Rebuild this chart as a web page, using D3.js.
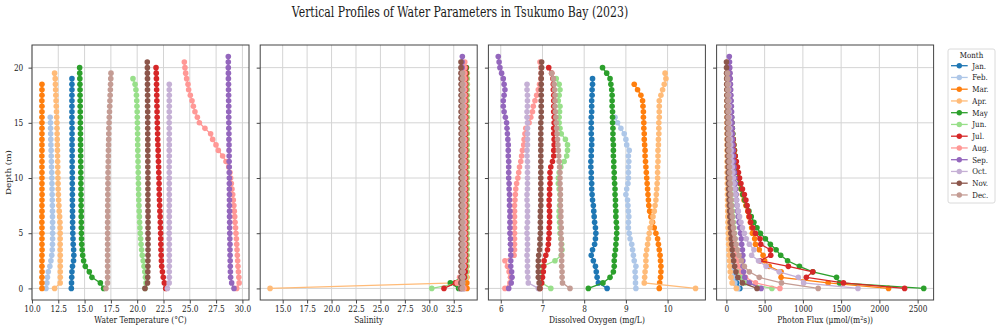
<!DOCTYPE html>
<html>
<head>
<meta charset="utf-8">
<script src="https://cdn.jsdelivr.net/npm/d3@7"></script>
<style>
	body { margin: 0; background: #fff; }
	text { font-family: "DejaVu Serif", serif; fill: #1a1a1a; }
</style>
</head>
<body>
<svg id="chart" width="1000" height="330"></svg>
<script>
var monthNames = ["Jan.","Feb.","Mar.","Apr.","May","Jun.","Jul.","Aug.","Sep.","Oct.","Nov.","Dec."];
var monthColors = ["#1f77b4","#aec7e8","#ff7f0e","#ffbb78","#2ca02c","#98df8a","#d62728","#ff9896","#9467bd","#c5b0d5","#8c564b","#c49c94"];
var depthStep = 0.5; // each value below is one 0.5 m step, from the surface down

// water temperature (°C)
var tempJan = [13.74,13.76,13.78,13.80,13.85,13.95,13.98,13.96,13.92,13.90,13.88,13.87,13.86,13.86,13.85,13.85,13.84,13.84,13.84,13.83,13.83,13.83,13.82,13.82,13.82,13.82,13.81,13.81,13.81,13.81,13.80,13.80,13.80,13.80,13.80,13.80,13.80,13.80,13.80];
var tempFeb = [11.33,11.42,11.47,11.55,11.70,11.80,11.88,11.93,11.95,11.96,11.96,11.96,11.96,11.95,11.95,11.94,11.93,11.92,11.91,11.90,11.89,11.88,11.86,11.85,11.83,11.82,11.80,11.79,11.78,11.77,11.76,11.74];
var tempMar = [10.95,10.95,10.95,10.96,10.95,10.95,10.95,10.96,10.95,10.95,10.95,10.95,10.94,10.95,10.95,10.95,10.95,10.96,10.95,10.95,10.95,10.95,10.95,10.95,10.94,10.95,10.95,10.95,10.95,10.95,10.95,10.95,10.95,10.95,10.94,10.95,10.95,10.95];
var tempApr = [12.15,12.68,12.69,12.69,12.69,12.69,12.69,12.68,12.68,12.68,12.68,12.67,12.66,12.63,12.59,12.56,12.53,12.51,12.49,12.48,12.47,12.46,12.45,12.44,12.43,12.42,12.41,12.40,12.39,12.38,12.37,12.35,12.33,12.31,12.29,12.27,12.25,12.23,12.21,12.15];
var tempMay = [16.81,16.50,15.70,15.45,15.07,14.91,14.82,14.77,14.73,14.71,14.70,14.69,14.69,14.68,14.68,14.67,14.67,14.66,14.66,14.65,14.65,14.64,14.64,14.63,14.63,14.62,14.62,14.61,14.61,14.60,14.60,14.59,14.59,14.58,14.58,14.57,14.57,14.56,14.55,14.54,14.53];
var tempJun = [20.75,20.84,20.78,20.72,20.65,20.57,20.48,20.42,20.37,20.33,20.29,20.26,20.23,20.21,20.19,20.17,20.15,20.14,20.13,20.12,20.11,20.10,20.09,20.08,20.07,20.06,20.05,20.05,20.04,20.03,20.02,20.01,20.00,19.98,19.96,19.93,19.88,19.80,19.60];
var tempJul = [22.71,22.58,22.48,22.40,22.33,22.30,22.28,22.26,22.25,22.24,22.23,22.21,22.20,22.18,22.16,22.14,22.12,22.10,22.09,22.08,22.07,22.05,22.04,22.02,22.00,21.99,21.97,21.95,21.94,21.93,21.91,21.90,21.89,21.88,21.87,21.86,21.85,21.84,21.83,21.81,21.79];
var tempAug = [29.46,29.69,29.66,29.62,29.58,29.55,29.52,29.49,29.46,29.43,29.39,29.35,29.30,29.27,29.23,29.19,29.14,29.08,29.01,28.95,28.88,28.82,28.70,28.44,28.12,27.71,27.49,27.17,26.98,26.44,25.91,25.72,25.49,25.34,25.21,25.05,24.89,24.83,24.70,24.61,24.54,24.48];
var tempSep = [29.20,28.98,28.88,28.86,28.85,28.84,28.83,28.82,28.82,28.81,28.80,28.79,28.79,28.78,28.78,28.77,28.77,28.77,28.76,28.76,28.76,28.75,28.75,28.74,28.74,28.73,28.73,28.72,28.72,28.71,28.71,28.70,28.70,28.70,28.69,28.69,28.68,28.68,28.67,28.67,28.66,28.66,28.66];
var tempOct = [22.87,23.04,23.05,23.05,23.05,23.06,23.05,23.05,23.05,23.05,23.04,23.05,23.05,23.05,23.05,23.05,23.06,23.05,23.05,23.05,23.05,23.05,23.04,23.05,23.05,23.05,23.05,23.05,23.05,23.05,23.04,23.05,23.05,23.05,23.05,23.05,23.05,23.05];
var tempNov = [20.74,20.98,21.00,21.01,21.02,21.02,21.03,21.03,21.03,21.03,21.03,21.03,21.03,21.03,21.03,21.02,21.02,21.02,21.02,21.02,21.02,21.02,21.01,21.01,21.01,21.01,21.01,21.01,21.00,21.00,21.00,21.00,21.00,20.99,20.99,20.99,20.98,20.98,20.98,20.97,20.97,20.96];
var tempDec = [17.03,17.18,17.19,17.19,17.19,17.19,17.19,17.19,17.19,17.19,17.19,17.19,17.19,17.20,17.20,17.20,17.21,17.21,17.21,17.22,17.22,17.23,17.24,17.25,17.26,17.27,17.28,17.29,17.30,17.31,17.33,17.35,17.37,17.39,17.41,17.43,17.45,17.47,17.49,17.51];

// salinity
var salJan = [33.55,33.56,33.56,33.55,33.55,33.56,33.56,33.55,33.55,33.55,33.56,33.56,33.55,33.55,33.55,33.55,33.56,33.56,33.55,33.55,33.55,33.55,33.55,33.56,33.55,33.55,33.55,33.55,33.55,33.55,33.55,33.55,33.55,33.55,33.55,33.55,33.55,33.55,33.55];
var salFeb = [33.50,33.50,33.51,33.51,33.50,33.50,33.50,33.50,33.50,33.51,33.50,33.50,33.50,33.50,33.50,33.50,33.50,33.50,33.50,33.50,33.50,33.50,33.50,33.50,33.50,33.50,33.50,33.50,33.50,33.50,33.50,33.50];
var salMar = [33.86,33.84,33.84,33.83,33.83,33.83,33.82,33.82,33.82,33.82,33.82,33.82,33.81,33.81,33.81,33.81,33.81,33.81,33.80,33.80,33.80,33.80,33.80,33.80,33.80,33.80,33.80,33.80,33.80,33.80,33.80,33.80,33.80,33.80,33.80,33.80,33.80,33.80];
var salApr = [13.71,32.70,33.82,33.84,33.85,33.86,33.86,33.86,33.86,33.86,33.87,33.87,33.87,33.87,33.87,33.87,33.88,33.88,33.88,33.88,33.88,33.88,33.88,33.88,33.88,33.88,33.88,33.88,33.89,33.89,33.89,33.89,33.89,33.89,33.89,33.89,33.89,33.89,33.89,33.89];
var salMay = [33.00,32.15,33.50,33.70,33.75,33.76,33.77,33.77,33.78,33.78,33.78,33.78,33.78,33.78,33.78,33.78,33.78,33.78,33.78,33.79,33.79,33.79,33.79,33.79,33.79,33.79,33.79,33.79,33.79,33.79,33.79,33.79,33.79,33.79,33.79,33.79,33.79,33.80,33.80,33.80,33.80];
var salJun = [30.25,33.20,33.70,33.80,33.83,33.84,33.85,33.85,33.85,33.85,33.85,33.86,33.86,33.86,33.86,33.86,33.86,33.86,33.86,33.86,33.86,33.86,33.86,33.86,33.86,33.86,33.86,33.86,33.86,33.86,33.86,33.86,33.86,33.86,33.86,33.86,33.86,33.86,33.86];
var salJul = [31.50,32.70,33.60,33.68,33.70,33.71,33.72,33.72,33.72,33.72,33.72,33.73,33.73,33.73,33.73,33.73,33.73,33.73,33.73,33.73,33.73,33.73,33.73,33.73,33.73,33.73,33.73,33.73,33.73,33.73,33.73,33.73,33.73,33.73,33.73,33.73,33.73,33.73,33.73,33.73,33.72];
var salAug = [33.55,32.85,33.10,33.40,33.55,33.58,33.60,33.60,33.61,33.61,33.61,33.62,33.62,33.62,33.62,33.62,33.62,33.62,33.62,33.62,33.62,33.62,33.62,33.62,33.62,33.62,33.62,33.62,33.62,33.62,33.63,33.63,33.63,33.63,33.63,33.63,33.63,33.63,33.63,33.63,33.63,33.63];
var salSep = [33.30,33.32,33.33,33.34,33.35,33.35,33.35,33.35,33.35,33.35,33.35,33.35,33.35,33.35,33.35,33.35,33.35,33.35,33.35,33.35,33.35,33.35,33.35,33.35,33.35,33.35,33.35,33.35,33.35,33.35,33.35,33.35,33.35,33.35,33.35,33.35,33.35,33.35,33.35,33.35,33.36,33.36,33.38];
var salOct = [33.20,33.40,33.43,33.44,33.45,33.45,33.45,33.45,33.45,33.45,33.45,33.45,33.45,33.45,33.45,33.45,33.45,33.45,33.45,33.45,33.45,33.45,33.45,33.45,33.45,33.45,33.45,33.45,33.45,33.45,33.45,33.45,33.45,33.45,33.45,33.45,33.45,33.45];
var salNov = [33.22,33.23,33.24,33.24,33.25,33.25,33.25,33.25,33.25,33.25,33.25,33.25,33.25,33.25,33.25,33.25,33.25,33.25,33.25,33.25,33.25,33.25,33.25,33.25,33.25,33.25,33.25,33.25,33.25,33.25,33.25,33.25,33.25,33.25,33.25,33.25,33.25,33.25,33.24,33.24,33.24,33.24];
var salDec = [33.38,33.40,33.40,33.40,33.40,33.40,33.40,33.40,33.40,33.40,33.40,33.40,33.40,33.40,33.40,33.40,33.40,33.40,33.40,33.40,33.40,33.40,33.40,33.40,33.40,33.40,33.40,33.40,33.40,33.40,33.40,33.40,33.40,33.40,33.40,33.40,33.40,33.40,33.40,33.40];

// dissolved oxygen (mg/L)
var doJan = [8.55,8.34,8.31,8.29,8.27,8.22,8.17,8.20,8.25,8.27,8.28,8.27,8.25,8.24,8.23,8.22,8.20,8.19,8.18,8.18,8.17,8.17,8.16,8.16,8.17,8.17,8.18,8.18,8.17,8.17,8.17,8.17,8.18,8.18,8.18,8.19,8.19,8.20,8.20];
var doFeb = [9.24,9.23,9.23,9.22,9.24,9.20,9.18,9.16,9.14,9.10,9.08,9.06,9.06,9.07,9.06,9.05,9.04,9.00,9.02,9.05,9.06,9.06,9.06,9.07,9.06,9.08,9.02,9.00,8.96,8.88,8.80,8.74];
var doMar = [9.80,9.81,9.83,9.84,9.84,9.83,9.82,9.80,9.78,9.76,9.72,9.68,9.64,9.60,9.57,9.55,9.54,9.53,9.52,9.51,9.50,9.49,9.48,9.47,9.46,9.46,9.45,9.44,9.44,9.43,9.43,9.42,9.42,9.41,9.40,9.36,9.28,9.20];
var doApr = [10.67,9.44,9.45,9.46,9.48,9.48,9.48,9.50,9.52,9.54,9.56,9.58,9.62,9.65,9.68,9.70,9.72,9.73,9.74,9.75,9.76,9.76,9.76,9.77,9.77,9.77,9.78,9.78,9.79,9.79,9.79,9.80,9.80,9.80,9.80,9.84,9.88,9.92,9.96,9.94];
var doMay = [8.10,8.45,8.62,8.70,8.72,8.72,8.73,8.75,8.76,8.77,8.78,8.78,8.77,8.76,8.76,8.75,8.75,8.74,8.74,8.73,8.72,8.72,8.71,8.71,8.70,8.70,8.70,8.69,8.69,8.69,8.68,8.68,8.68,8.67,8.67,8.67,8.66,8.64,8.62,8.54,8.44];
var doJun = [7.20,6.98,6.98,6.99,7.00,7.30,7.45,7.47,7.46,7.44,7.42,7.42,7.41,7.40,7.40,7.41,7.42,7.42,7.40,7.38,7.38,7.40,7.44,7.52,7.58,7.60,7.60,7.55,7.45,7.42,7.40,7.40,7.41,7.42,7.38,7.40,7.42,7.40,7.33];
var doJul = [6.94,6.98,7.00,7.02,7.03,7.04,7.08,7.12,7.14,7.15,7.16,7.16,7.17,7.17,7.17,7.16,7.16,7.17,7.17,7.18,7.18,7.18,7.20,7.24,7.27,7.27,7.28,7.28,7.27,7.27,7.28,7.28,7.27,7.27,7.27,7.27,7.26,7.26,7.25,7.22,7.15];
var doAug = [6.10,6.22,6.23,6.20,6.16,6.10,6.32,6.33,6.33,6.33,6.33,6.33,6.33,6.33,6.33,6.33,6.34,6.35,6.36,6.38,6.41,6.43,6.45,6.48,6.50,6.52,6.55,6.56,6.58,6.60,6.68,6.72,6.76,6.78,6.82,6.86,6.90,6.93,6.96,6.97,6.96,6.94];
var doSep = [6.19,6.25,6.27,6.26,6.24,6.24,6.24,6.24,6.23,6.23,6.22,6.22,6.22,6.22,6.22,6.21,6.21,6.21,6.20,6.20,6.19,6.19,6.19,6.19,6.18,6.18,6.18,6.17,6.16,6.15,6.14,6.11,6.08,6.06,6.06,6.08,6.10,6.08,6.06,6.02,5.98,5.96,5.94];
var doOct = [6.90,6.66,6.65,6.64,6.64,6.64,6.63,6.64,6.64,6.64,6.63,6.63,6.64,6.64,6.64,6.64,6.63,6.63,6.64,6.64,6.64,6.64,6.64,6.64,6.63,6.63,6.64,6.64,6.64,6.64,6.64,6.63,6.63,6.64,6.64,6.64,6.63,6.63];
var doNov = [6.93,6.92,6.90,6.90,6.90,6.90,6.91,6.93,6.94,6.94,6.95,6.95,6.95,6.95,6.95,6.96,6.96,6.96,6.96,6.96,6.96,6.96,6.96,6.96,6.96,6.96,6.96,6.96,6.96,6.96,6.96,6.97,6.97,6.97,6.97,6.97,6.97,6.97,6.97,6.97,6.98,6.98];
var doDec = [7.66,7.48,7.47,7.47,7.46,7.46,7.46,7.45,7.45,7.45,7.44,7.45,7.44,7.44,7.44,7.43,7.43,7.43,7.43,7.42,7.42,7.42,7.41,7.40,7.39,7.38,7.37,7.36,7.35,7.34,7.33,7.32,7.31,7.30,7.30,7.30,7.29,7.28,7.26,7.22];

// photon flux (µmol/(m²s))
var parJan = [176,135,115,100,90,82,75,68,62,57,52,48,44,41,38,35,33,31,29,27,25,24,22,21,20,19,18,17,16,15,14,13,13,12,12,11,11,10,10];
var parFeb = [150,110,95,85,75,68,62,57,52,48,44,41,38,35,32,30,28,26,24,22,21,20,18,17,16,15,14,13,12,12,11,10];
var parMar = [2120,1330,715,715,560,500,480,430,380,370,340,330,314,295,280,255,230,210,190,175,160,148,136,125,115,105,96,88,81,75,69,64,59,55,51,47,44,41];
var parApr = [130,75,60,50,45,40,36,33,30,27,25,23,21,19,18,16,15,14,13,12,11,10,10,9,9,8,8,7,7,7,6,6,6,5,5,5,5,4,4,4];
var parMay = [2580,1480,1440,1130,955,800,710,650,575,510,445,400,360,325,295,265,240,215,195,178,162,148,135,124,114,105,97,90,83,77,72,67,62,58,54,50,47,44,41,38,35];
var parJun = [595,240,200,175,160,148,138,128,120,112,105,98,92,86,80,75,70,66,62,58,55,52,49,46,43,41,39,37,35,33,31,30,28,27,26,25,24,23,22];
var parJul = [2330,1530,1045,1130,810,440,580,575,450,440,380,345,318,300,285,270,255,235,210,190,172,158,145,130,115,102,95,88,78,72,67,62,58,55,52,49,47,45,43,40,38];
var parAug = [700,380,250,195,160,140,125,112,102,94,87,80,74,69,64,60,56,52,49,46,43,41,39,37,35,33,31,30,28,27,26,25,24,23,22,21,20,19,18,17,16,15];
var parSep = [455,300,240,225,218,215,215,210,200,195,185,175,165,156,148,140,133,127,121,116,110,105,100,96,92,88,85,82,79,77,74,71,68,65,62,59,56,53,50,47,44,41,38];
var parOct = [1720,1010,940,690,520,420,330,360,300,260,235,210,190,172,156,142,130,119,109,100,92,85,78,72,66,61,57,53,49,46,43,40,37,35,33,31,29,27];
var parNov = [400,210,150,125,108,95,85,77,70,64,58,53,49,45,41,38,35,32,30,28,26,24,22,20,19,18,16,15,14,13,12,11,10,9,8,7,6,5,4,3,2,1];
var parDec = [1200,720,430,300,235,195,165,145,128,114,102,92,84,77,71,65,60,56,52,48,45,42,40,37,35,33,31,29,27,26,24,23,22,21,20,19,18,17,16,15];

var tempData = [tempJan,tempFeb,tempMar,tempApr,tempMay,tempJun,tempJul,tempAug,tempSep,tempOct,tempNov,tempDec];
var salData = [salJan,salFeb,salMar,salApr,salMay,salJun,salJul,salAug,salSep,salOct,salNov,salDec];
var doData = [doJan,doFeb,doMar,doApr,doMay,doJun,doJul,doAug,doSep,doOct,doNov,doDec];
var parData = [parJan,parFeb,parMar,parApr,parMay,parJun,parJul,parAug,parSep,parOct,parNov,parDec];

var tempTicks = [10,12.5,15,17.5,20,22.5,25,27.5,30];
var salTicks = [15,17.5,20,22.5,25,27.5,30,32.5];
var doTicks = [6,7,8,9,10];
var parTicks = [0,500,1000,1500,2000,2500];
var depthTicks = [0,5,10,15,20];

var panels = [
	{label: "Water Temperature (°C)", data: tempData, ticks: tempTicks, fmt: ".1f"},
	{label: "Salinity", data: salData, ticks: salTicks, fmt: ".1f"},
	{label: "Dissolved Oxygen (mg/L)", data: doData, ticks: doTicks, fmt: "d"},
	{label: "Photon Flux (μmol/(m²s))", data: parData, ticks: parTicks, fmt: "d"}
];

var SX = 0.86; // the text in the picture is a little condensed
var plotTop = 45, plotBottom = 300, plotW = 217;
var panelLeft = [32, 260.2, 488.4, 716.6];

var svg = d3.select("#chart");

var maxDepth = d3.max(tempData, function(a){ return (a.length - 1) * depthStep; });
var y = d3.scaleLinear()
	.domain([-0.05*maxDepth, maxDepth*1.05])
	.range([plotBottom, plotTop]);

function profile(arr){
	return arr.map(function(v,i){ return {v: v, d: i*depthStep}; });
}

panels.forEach(function(p, k){
	var g = svg.append("g")
		.attr("transform", "translate(" + panelLeft[k] + ",0)");

	var lo = d3.min(p.data, function(a){ return d3.min(a); });
	var hi = d3.max(p.data, function(a){ return d3.max(a); });
	var pad = (hi - lo) * 0.05;
	var x = d3.scaleLinear().domain([lo - pad, hi + pad]).range([0, plotW]);

	//grid
	g.append("g").selectAll("line.vg")
		.data(p.ticks)
	.enter().append("line")
		.attr("x1", function(d){ return x(d); })
		.attr("x2", function(d){ return x(d); })
		.attr("y1", plotTop)
		.attr("y2", plotBottom)
		.style("stroke", "#d4d4d4")
		.style("stroke-width", 1);
	g.append("g").selectAll("line.hg")
		.data(depthTicks)
	.enter().append("line")
		.attr("x1", 0)
		.attr("x2", plotW)
		.attr("y1", function(d){ return y(d); })
		.attr("y2", function(d){ return y(d); })
		.style("stroke", "#d4d4d4")
		.style("stroke-width", 1);

	var line = d3.line()
		.x(function(d){ return x(d.v); })
		.y(function(d){ return y(d.d); });

	//one line + dots per month, Jan first so Dec ends on top
	p.data.forEach(function(arr, m){
		var pts = profile(arr);
		g.append("path")
			.datum(pts)
			.attr("d", line)
			.style("fill", "none")
			.style("stroke", monthColors[m])
			.style("stroke-width", 1.3);
		g.append("g").selectAll("circle")
			.data(pts)
		.enter().append("circle")
			.attr("cx", function(d){ return x(d.v); })
			.attr("cy", function(d){ return y(d.d); })
			.attr("r", 2.8)
			.style("fill", monthColors[m]);
	});

	//frame
	g.append("rect")
		.attr("x", 0)
		.attr("y", plotTop)
		.attr("width", plotW)
		.attr("height", plotBottom - plotTop)
		.style("fill", "none")
		.style("stroke", "#444")
		.style("stroke-width", 1);

	var xAxis = g.append("g")
		.attr("transform", "translate(0," + plotBottom + ")")
		.call(d3.axisBottom(x).tickValues(p.ticks).tickFormat(d3.format(p.fmt))
			.tickSize(3.5).tickSizeOuter(0).tickPadding(2.2));
	xAxis.select(".domain").remove();
	xAxis.selectAll("line").style("stroke", "#444");
	xAxis.selectAll("text")
		.attr("transform", "scale(" + SX + ",1)")
		.style("font-family", "DejaVu Serif")
		.style("font-size", "8.6px")
		.style("fill", "#1a1a1a");

	var yAxis = g.append("g")
		.call(d3.axisLeft(y).tickValues(depthTicks).tickSize(3.5).tickSizeOuter(0)
			.tickFormat(k == 0 ? d3.format("d") : ""));
	yAxis.select(".domain").remove();
	yAxis.selectAll("line").style("stroke", "#444");
	yAxis.selectAll("text")
		.attr("x", -8.7 / SX)
		.attr("transform", "scale(" + SX + ",1)")
		.style("font-family", "DejaVu Serif")
		.style("font-size", "8.6px")
		.style("fill", "#1a1a1a");

	g.append("text")
		.attr("transform", "translate(" + (plotW/2) + ",322.5) scale(" + SX + ",1)")
		.attr("text-anchor", "middle")
		.style("font-size", "8.8px")
		.text(p.label);
});

//depth label
svg.append("text")
	.attr("transform", "translate(11,172.5) rotate(-90) scale(1," + SX + ")")
	.attr("text-anchor", "middle")
	.style("font-size", "8.8px")
	.text("Depth (m)");

//title
svg.append("text")
	.attr("transform", "translate(460,16.5) scale(0.78,1)")
	.attr("text-anchor", "middle")
	.style("font-size", "14px")
	.text("Vertical Profiles of Water Parameters in Tsukumo Bay (2023)");

//legend
var legend = svg.append("g").attr("class", "legend");
legend.append("rect")
	.attr("x", 948)
	.attr("y", 49)
	.attr("width", 47)
	.attr("height", 154)
	.attr("rx", 2)
	.style("fill", "#fff")
	.style("stroke", "#d0d0d0")
	.style("stroke-width", 0.8);
legend.append("text")
	.attr("transform", "translate(971.5,58) scale(" + SX + ",1)")
	.attr("text-anchor", "middle")
	.style("font-size", "8.2px")
	.text("Month");

var item = legend.selectAll("g.item")
	.data(monthNames)
.enter().append("g")
	.attr("class", "item")
	.attr("transform", function(d,i){ return "translate(0," + (65.7 + i*11.75) + ")"; });
item.append("line")
	.attr("x1", 951)
	.attr("x2", 967.7)
	.style("stroke", function(d,i){ return monthColors[i]; })
	.style("stroke-width", 1.3);
item.append("circle")
	.attr("cx", 959.3)
	.attr("r", 2.7)
	.style("fill", function(d,i){ return monthColors[i]; });
item.append("text")
	.attr("transform", "translate(972.3,3) scale(" + SX + ",1)")
	.style("font-size", "8.2px")
	.text(function(d){ return d; });
</script>
</body>
</html>
